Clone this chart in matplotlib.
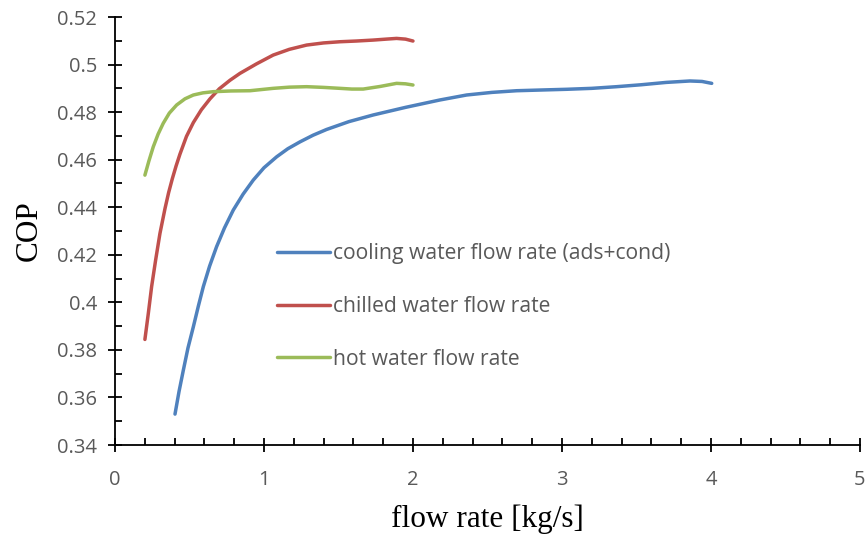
import matplotlib
matplotlib.use("Agg")
import matplotlib.pyplot as plt
from matplotlib.ticker import MultipleLocator

# values
cool_x = [0.403, 0.43, 0.459, 0.49, 0.526, 0.56, 0.593, 0.635, 0.682, 0.735, 0.794, 0.86,
          0.928, 1.0, 1.085, 1.16, 1.242, 1.33, 1.42, 1.57, 1.733, 1.95, 2.18, 2.36,
          2.53, 2.696, 2.86, 3.03, 3.2, 3.367, 3.53, 3.70, 3.859, 3.94, 4.005]
cool_y = [0.353, 0.3625, 0.3715, 0.3808, 0.3897, 0.3985, 0.4066, 0.4152, 0.4234, 0.4313, 0.4388, 0.4455,
          0.4514, 0.4566, 0.4612, 0.4646, 0.4675, 0.4703, 0.4727, 0.4760, 0.4788, 0.4820, 0.4851, 0.4872,
          0.4883, 0.4890, 0.4893, 0.4896, 0.4900, 0.4907, 0.4915, 0.4925, 0.4931, 0.4929, 0.4921]

chill_x = [0.201, 0.224, 0.246, 0.273, 0.302, 0.336, 0.36, 0.385, 0.41, 0.436, 0.48,
           0.526, 0.58, 0.638, 0.70, 0.772, 0.839, 0.95, 1.062, 1.17, 1.286, 1.40, 1.51,
           1.62, 1.733, 1.82, 1.89, 1.95, 2.0]
chill_y = [0.3844, 0.3954, 0.4066, 0.4178, 0.4290, 0.4395, 0.4461, 0.4520, 0.4573, 0.4623, 0.4698,
           0.4756, 0.4810, 0.4856, 0.4898, 0.4934, 0.4963, 0.5003, 0.5040, 0.5064, 0.5082, 0.5091, 0.5096,
           0.5099, 0.5103, 0.5107, 0.5110, 0.5107, 0.5099]

hot_x = [0.201, 0.228, 0.257, 0.29, 0.324, 0.365, 0.414, 0.47, 0.526, 0.59, 0.66, 0.78,
         0.906, 1.062, 1.17, 1.286, 1.40, 1.51, 1.59, 1.666, 1.78, 1.89, 1.95, 2.0]
hot_y = [0.4535, 0.4595, 0.4654, 0.4708, 0.4753, 0.4796, 0.4830, 0.4856, 0.4872, 0.4881, 0.4886, 0.4889,
         0.4890, 0.4900, 0.4905, 0.4907, 0.4904, 0.4900, 0.4897, 0.4897, 0.4908, 0.4921, 0.4919, 0.4914]

labels = ["cooling water flow rate (ads+cond)", "chilled water flow rate", "hot water flow rate"]
colors = ["#4F81BD", "#C0504D", "#9BBB59"]

y_ticks = [0.34, 0.36, 0.38, 0.40, 0.42, 0.44, 0.46, 0.48, 0.50, 0.52]
y_tick_labels = ["0.34", "0.36", "0.38", "0.4", "0.42", "0.44", "0.46", "0.48", "0.5", "0.52"]
x_ticks = [0, 1, 2, 3, 4, 5]

fig = plt.figure(figsize=(8.65, 5.35), dpi=100)
ax = fig.add_axes([0.1329, 0.1682, 0.8613, 0.8])

for xs, ys, lab, c in zip([cool_x, chill_x, hot_x], [cool_y, chill_y, hot_y], labels, colors):
    ax.plot(xs, ys, color=c, linewidth=2.5, label=lab,
            solid_capstyle="round", solid_joinstyle="round")

ax.set_xlim(0, 5)
ax.set_ylim(0.34, 0.52)
ax.set_xticks(x_ticks)
ax.set_xticklabels([str(v) for v in x_ticks])
ax.set_yticks(y_ticks)
ax.set_yticklabels(y_tick_labels)
ax.xaxis.set_minor_locator(MultipleLocator(0.2))
ax.yaxis.set_minor_locator(MultipleLocator(0.01))

for s in ["top", "right"]:
    ax.spines[s].set_visible(False)
for s in ["left", "bottom"]:
    ax.spines[s].set_linewidth(1.3)
    ax.spines[s].set_color("black")

ax.tick_params(which="major", direction="inout", length=9.5, width=1.3,
               colors="black", labelcolor="#595959", labelsize=14.5, pad=8)
ax.tick_params(axis="x", which="major", pad=13)
ax.tick_params(which="minor", direction="in", length=5, width=1.3, colors="black")
for t in ax.get_xticklabels() + ax.get_yticklabels():
    t.set_fontfamily("Open Sans")

ax.set_xlabel("flow rate [kg/s]", fontfamily="Liberation Serif", fontsize=22.5, labelpad=11)
ax.set_ylabel("COP", fontfamily="Liberation Serif", fontsize=22.5, labelpad=10)

leg = ax.legend(loc="upper left", bbox_to_anchor=(0.2174, 0.471), frameon=False,
                prop={"family": "Open Sans", "size": 15.2}, handlelength=2.5,
                handletextpad=0.15, labelspacing=1.5, borderaxespad=0, borderpad=0)
for t in leg.get_texts():
    t.set_color("#595959")

fig.savefig("out.png", dpi=100)
